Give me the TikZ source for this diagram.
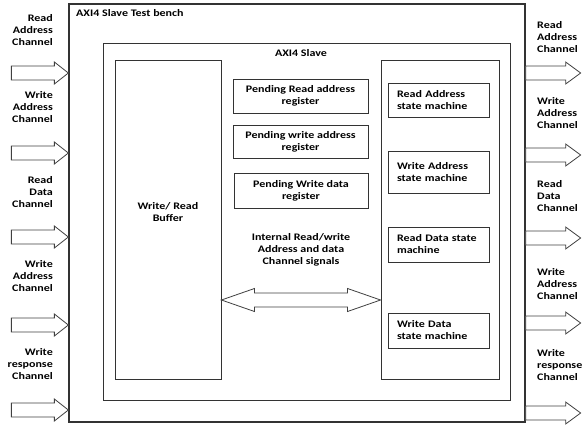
\documentclass[tikz,border=0pt]{standalone}
\usepackage{fontspec}
\setmainfont{Carlito}[FakeStretch=1.2]
\usetikzlibrary{positioning,calc}

\tikzset{
  frame/.style={draw=black!80, line width=0.9pt, inner sep=0pt},
  lbl/.style={font=\fontsize{10}{12}\selectfont\bfseries, inner sep=0pt},
  pendbox/.style={frame, lbl, align=center, minimum width=135pt},
  smbox/.style={frame, lbl, align=left, text width=83pt, minimum width=101pt},
  blockarrow/.style={draw=black!75, line width=0.8pt, fill=white, line join=miter},
}

\begin{document}
\begin{tikzpicture}[x=1pt,y=-1pt]
    \useasboundingbox (0,0) rectangle (582,429);
    \node[frame, line width=1.3pt, minimum width=456pt, minimum height=418pt] (bench) at (297,213) {}; % Test bench
    \node[lbl, anchor=west] (benchtitle) at (76,13) {AXI4 Slave Test bench};
    \node[frame, minimum width=407pt, minimum height=357pt] (slave) at (306.5,221.5) {}; % Slave
    \node[lbl] (slavetitle) at (301,53) {AXI4 Slave};
    \node[frame, minimum width=106pt, minimum height=319pt] (buf) at (168,219.5) {}; % Buffer
    \node[lbl, align=center] (buftext) at (168,212) {Write/ Read\\Buffer};
    \node[pendbox, minimum height=34pt] (pendra) at (300.5,96) {Pending Read address\\register};
    \node[pendbox, minimum height=33pt] (pendwa) at (300.5,141.5) {Pending write address\\register};
    \node[pendbox, minimum height=35pt, minimum width=134pt] (pendwd) at (301,190.5) {Pending Write data\\register};
    \node[frame, minimum width=118pt, minimum height=319pt] (smc) at (440,219.5) {}; % State machines
    \node[smbox, minimum height=34pt] (smra) at (438.5,100) {Read Address\\state machine};
    \node[smbox, minimum height=42pt] (smwa) at (438.5,172) {Write Address\\state machine};
    \node[smbox, minimum height=35pt] (smrd) at (438.5,244.5) {Read Data state\\machine};
    \node[smbox, minimum height=35pt] (smwd) at (438.5,330.5) {Write Data\\state machine};
    \node[lbl, align=center] (inttext) at (301,250) {Internal Read/write\\Address and data\\Channel signals};
    % Internal signals
    \coordinate (dl) at (buf.east |- 0,300);
    \coordinate (dr) at (smc.west |- 0,300);
    \draw[blockarrow] (dl) -- ($(dl)+(33,-11.5)$) -- ($(dl)+(33,-7)$) -- ($(dr)+(-33,-7)$) -- ($(dr)+(-33,-11.5)$) -- (dr)
        -- ($(dr)+(-33,11.5)$) -- ($(dr)+(-33,7)$) -- ($(dl)+(33,7)$) -- ($(dl)+(33,11.5)$) -- cycle;
    % Channels in
    \foreach \y in {73,153,237,325,410}
        \draw[blockarrow] (bench.west |- 0,\y) -- ++(-14,-11) -- ++(0,4) -- ++(-43,0) -- ++(0,14) -- ++(43,0) -- ++(0,4) -- cycle;
    % Channels out
    \foreach \y in {73,155,238,323,413}
        \draw[blockarrow] (bench.east |- 0,\y) -- ++(0,-7) -- ++(40,0) -- ++(0,-4) -- ++(15,11) -- ++(-15,11) -- ++(0,-4) -- ++(-40,0) -- cycle;
    \node[lbl, align=right, anchor=east] (inra) at (53,30) {Read\\Address\\Channel};
    \node[lbl, align=right, anchor=east] (inwa) at (53,107) {Write\\Address\\Channel};
    \node[lbl, align=right, anchor=east] (inrd) at (53,192) {Read\\Data\\Channel};
    \node[lbl, align=right, anchor=east] (inwb) at (53,276) {Write\\Address\\Channel};
    \node[lbl, align=right, anchor=east] (inwr) at (53,364) {Write\\response\\Channel};
    \node[lbl, align=left, anchor=west] (outra) at (537,37) {Read\\Address\\Channel};
    \node[lbl, align=left, anchor=west] (outwa) at (537,113) {Write\\Address\\Channel};
    \node[lbl, align=left, anchor=west] (outrd) at (537,196) {Read\\Data\\Channel};
    \node[lbl, align=left, anchor=west] (outwb) at (537,284) {Write\\Address\\Channel};
    \node[lbl, align=left, anchor=west] (outwr) at (537,365) {Write\\response\\Channel};
\end{tikzpicture}
\end{document}
